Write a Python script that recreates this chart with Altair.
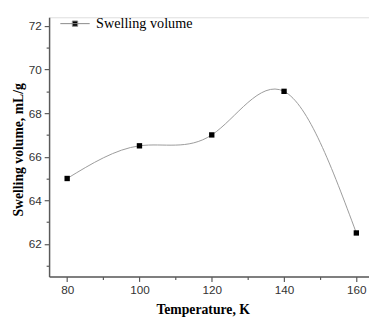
import altair as alt
import pandas as pd

temps = [80, 100, 120, 140, 160]
volumes = [65.0, 66.5, 67.0, 69.0, 62.5]
series = ["Swelling volume"] * len(temps)
x_ticks = [80, 90, 100, 110, 120, 130, 140, 150, 160]
y_ticks = [61, 62, 63, 64, 65, 66, 67, 68, 69, 70, 71, 72]

df = pd.DataFrame({"T": temps, "V": volumes, "s": series})

axis_color = "#5a5a5a"
label_color = "#333333"

x_enc = alt.X(
    "T:Q",
    scale=alt.Scale(domain=[75, 163.5], nice=False, zero=False),
    axis=alt.Axis(
        values=x_ticks,
        labelExpr="datum.value % 20 == 0 ? datum.label : ''",
        tickSize={"condition": {"test": "datum.value % 20 == 0", "value": 5}, "value": 3},
        grid=False,
        title="Temperature, K",
        titleFont="Liberation Serif",
        titleFontSize=14,
        titleFontWeight="bold",
        titleColor="black",
        titleX=157,
        titleY=38,
        titleBaseline="alphabetic",
        titleAlign="center",
        labelFont="Liberation Sans",
        labelFontSize=12,
        labelColor=label_color,
        labelPadding=3,
        domainColor=axis_color,
        domainWidth=1.5,
        tickColor=axis_color,
        tickWidth=1.2,
    ),
)

y_enc = alt.Y(
    "V:Q",
    scale=alt.Scale(domain=[60.5, 72.4], nice=False, zero=False),
    axis=alt.Axis(
        values=y_ticks,
        labelExpr="datum.value % 2 == 0 ? datum.label : ''",
        tickSize={"condition": {"test": "datum.value % 2 == 0", "value": 5}, "value": 3},
        grid=False,
        title="Swelling volume,  mL/g",
        titleFont="Liberation Serif",
        titleFontSize=14,
        titleFontWeight="bold",
        titleColor="black",
        titleX=-31,
        titleY=135,
        titleBaseline="middle",
        titleAlign="center",
        labelFont="Liberation Sans",
        labelFontSize=12,
        labelColor=label_color,
        labelPadding=3,
        domainColor=axis_color,
        domainWidth=1.5,
        tickColor=axis_color,
        tickWidth=1.2,
    ),
)

line = alt.Chart(df).mark_line(interpolate="natural", color="#9a9a9a", strokeWidth=1).encode(
    x=x_enc, y=y_enc
)

legend_path = "M-1,0H1M-0.18,-0.18H0.18V0.18H-0.18Z"

points = alt.Chart(df).mark_square(size=30, opacity=1).encode(
    x=x_enc,
    y=y_enc,
    color=alt.Color(
        "s:N",
        scale=alt.Scale(range=["black"]),
        legend=alt.Legend(
            title=None,
            orient="none",
            legendX=11,
            legendY=-9,
            symbolType=legend_path,
            symbolSize=900,
            symbolStrokeColor="#888888",
            symbolStrokeWidth=1,
            symbolFillColor="black",
            labelFont="Liberation Serif",
            labelFontSize=14.5,
            labelColor="black",
            labelOffset=6,
            padding=0,
        ),
    ),
)

chart = (
    alt.layer(line, points)
    .properties(
        width=327,
        height=265,
        autosize=alt.AutoSizeParams(type="none"),
        padding={"left": 42, "top": 6, "right": 0, "bottom": 43},
    )
    .configure_view(stroke=None)
    .configure(background="white")
)

chart.save("out.html", embed_options={"renderer": "svg", "actions": False})
